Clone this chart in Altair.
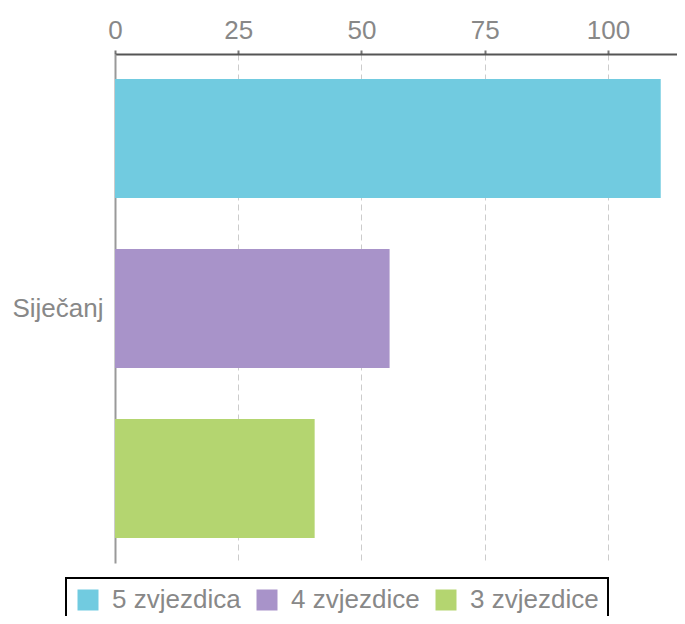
import altair as alt
import pandas as pd

categories = ["Siječanj", "Siječanj", "Siječanj"]
series = ["5 zvjezdica", "4 zvjezdice", "3 zvjezdice"]
values = [110.7, 55.7, 40.5]
colors = ["#71CBE0", "#A893C9", "#B4D570"]
x_ticks = [0, 25, 50, 75, 100]

FONT = "Liberation Sans"

df = pd.DataFrame({"mjesec": categories, "ocjena": series, "broj": values})

chart = (
    alt.Chart(df)
    .mark_bar()
    .encode(
        x=alt.X(
            "broj:Q",
            scale=alt.Scale(domain=[0, 114.0], nice=False, zero=True),
            axis=alt.Axis(
                orient="top", values=x_ticks, title=None, format="d",
                labelFlush=False,
                domainColor="#555555", domainWidth=2,
                tickColor="#777777", tickSize=4, tickWidth=2,
                labelFontSize=26, labelColor="#888888", labelFont=FONT, labelPadding=7,
                grid=True, gridDash=[6, 4], gridColor="#cccccc", gridWidth=1,
            ),
        ),
        y=alt.Y(
            "mjesec:N",
            scale=alt.Scale(paddingInner=0, paddingOuter=0),
            axis=alt.Axis(
                title=None, ticks=False, grid=False,
                labelFontSize=26, labelColor="#888888", labelFont=FONT, labelPadding=12,
                domainColor="#999999", domainWidth=2,
            ),
        ),
        yOffset=alt.YOffset(
            "ocjena:N", sort=series,
            scale=alt.Scale(paddingInner=0.3, paddingOuter=0.147),
        ),
        color=alt.Color(
            "ocjena:N",
            sort=series,
            scale=alt.Scale(domain=series, range=colors),
            legend=alt.Legend(
                orient="none", legendX=-49, legendY=524, direction="horizontal",
                title=None, strokeColor="black", fillColor="white", padding=9,
                symbolType="square", symbolSize=441, symbolStrokeWidth=0, symbolOpacity=1,
                labelFontSize=26, labelColor="#888888", labelFont=FONT,
                labelOffset=11, columnPadding=13,
            ),
        ),
    )
    .properties(
        width=562,
        height=509,
        autosize=alt.AutoSizeParams(type="none"),
        padding={"left": 107, "top": 46, "right": 0, "bottom": 53},
    )
    .configure_view(stroke=None)
    .configure_legend(strokeWidth=2)
)

chart.save("out.html", embed_options={"renderer": "svg", "actions": False})
